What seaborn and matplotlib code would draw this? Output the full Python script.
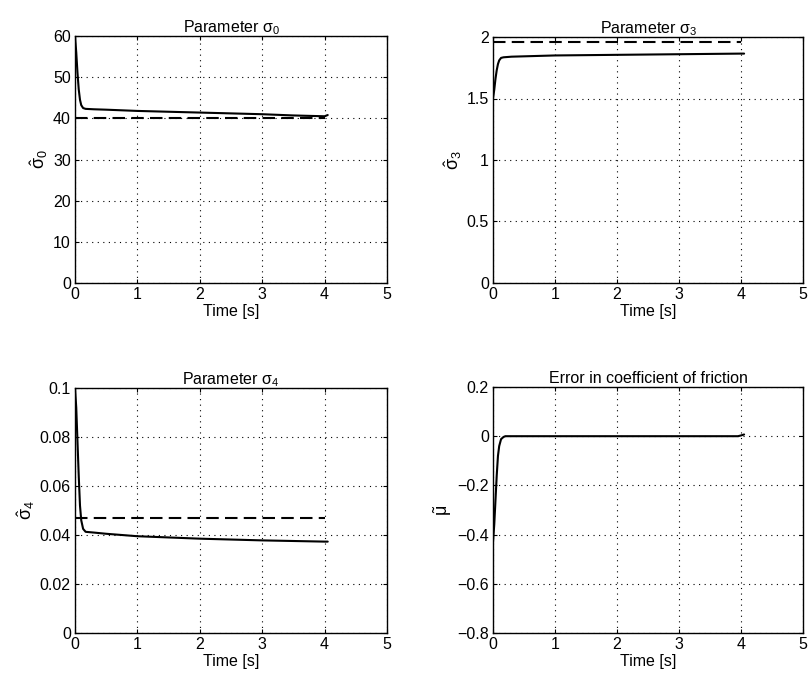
import numpy as np
import pandas as pd
import matplotlib
matplotlib.use("Agg")
import matplotlib.pyplot as plt
import seaborn as sns

# ---- data ----
t_s0 = [0, 0.02, 0.04, 0.06, 0.08, 0.10, 0.13, 0.17, 0.3, 0.5, 1.0, 1.5, 2.0, 2.5, 3.0, 3.5, 4.0, 4.05]
s0 = [60, 56, 51, 47, 44.5, 43.2, 42.5, 42.3, 42.2, 42.1, 41.8, 41.6, 41.4, 41.2, 41.0, 40.7, 40.5, 40.8]
s0_true = 40.0

t_s3 = [0, 0.02, 0.04, 0.06, 0.08, 0.10, 0.13, 0.17, 0.3, 1.0, 2.0, 3.0, 4.0, 4.05]
s3 = [1.5, 1.57, 1.66, 1.73, 1.78, 1.81, 1.83, 1.835, 1.84, 1.85, 1.855, 1.86, 1.865, 1.865]
s3_true = 1.96

t_s4 = [0, 0.02, 0.04, 0.06, 0.08, 0.10, 0.13, 0.17, 0.3, 0.5, 1.0, 2.0, 3.0, 4.0, 4.05]
s4 = [0.1, 0.092, 0.078, 0.064, 0.052, 0.046, 0.0425, 0.0413, 0.041, 0.0405, 0.0395, 0.0385, 0.0378, 0.0373, 0.0373]
s4_true = 0.047

t_mu = [0, 0.02, 0.04, 0.06, 0.08, 0.10, 0.13, 0.17, 0.2, 1.0, 2.0, 3.0, 3.95, 4.0, 4.05]
mu = [-0.43, -0.36, -0.26, -0.16, -0.08, -0.04, -0.012, -0.003, 0.0, 0.0, 0.0, 0.0, 0.0, 0.003, 0.007]

t_true = [0, 4]

x_ticks = [0, 1, 2, 3, 4, 5]

sns.set_theme(style="white")
plt.rcParams['font.family'] = ['Liberation Sans', 'DejaVu Sans']
plt.rcParams['mathtext.fontset'] = 'custom'
plt.rcParams['mathtext.rm'] = 'Liberation Sans'
plt.rcParams['mathtext.it'] = 'Liberation Sans'
plt.rcParams['mathtext.bf'] = 'Liberation Sans:bold'

W, H = 809, 677
fig = plt.figure(figsize=(W / 100, H / 100), dpi=100)

def box(l, t, r, b):
    return [l / W, 1 - b / H, (r - l) / W, (b - t) / H]

FS = 11.5

panels = [
    dict(pos=box(75, 36, 387, 283), t=t_s0, y=s0, true=s0_true,
         title='Parameter σ$_0$', ylabel=r'$\hat{\sigma}_0$',
         ylim=(0, 60), yticks=[0, 10, 20, 30, 40, 50, 60], fmt=lambda v: f'{v:g}'),
    dict(pos=box(493, 37, 803, 283), t=t_s3, y=s3, true=s3_true,
         title='Parameter σ$_3$', ylabel=r'$\hat{\sigma}_3$',
         ylim=(0, 2), yticks=[0, 0.5, 1, 1.5, 2], fmt=lambda v: f'{v:g}'),
    dict(pos=box(75, 388, 387, 633), t=t_s4, y=s4, true=s4_true,
         title='Parameter σ$_4$', ylabel=r'$\hat{\sigma}_4$',
         ylim=(0, 0.1), yticks=[0, 0.02, 0.04, 0.06, 0.08, 0.1], fmt=lambda v: f'{v:g}'),
    dict(pos=box(493, 387, 803, 633), t=t_mu, y=mu, true=None,
         title='Error in coefficient of friction', ylabel=r'$\tilde{\mu}$',
         ylim=(-0.8, 0.2), yticks=[-0.8, -0.6, -0.4, -0.2, 0, 0.2],
         fmt=lambda v: f'{v:g}'.replace('-', '\u2212')),
]

for p in panels:
    ax = fig.add_axes(p['pos'])
    df = pd.DataFrame({'t': p['t'], 'v': p['y']})
    sns.lineplot(data=df, x='t', y='v', ax=ax, color='black', linewidth=1.5, zorder=3)
    if p['true'] is not None:
        dft = pd.DataFrame({'t': t_true, 'v': [p['true']] * len(t_true)})
        sns.lineplot(data=dft, x='t', y='v', ax=ax, color='black', zorder=3,
                     linewidth=1.5, dashes=False, linestyle=(0, (6, 3)))
    ax.set_xlim(0, 5)
    ax.set_ylim(*p['ylim'])
    ax.set_xticks(x_ticks)
    ax.set_xticklabels([str(v) for v in x_ticks])
    ax.set_yticks(p['yticks'])
    ax.set_yticklabels([p['fmt'](v) for v in p['yticks']])
    ax.grid(True, color='black', linestyle=(0, (1, 4)), linewidth=0.8)
    ax.set_axisbelow(True)
    for s in ax.spines.values():
        s.set_visible(True)
        s.set_color('black')
        s.set_linewidth(1.0)
        s.set_zorder(4)
    ax.tick_params(direction='in', length=3, width=0.8, colors='black',
                   labelsize=FS, pad=3, top=True, right=True,
                   bottom=True, left=True)
    ax.set_xlabel('Time [s]', fontsize=FS, labelpad=1, color='black')
    ax.set_ylabel(p['ylabel'], fontsize=13, labelpad=2, color='black')
    ax.set_title(p['title'], fontsize=FS, pad=3, color='black')

fig.savefig('out.png', dpi=100, facecolor='white')
